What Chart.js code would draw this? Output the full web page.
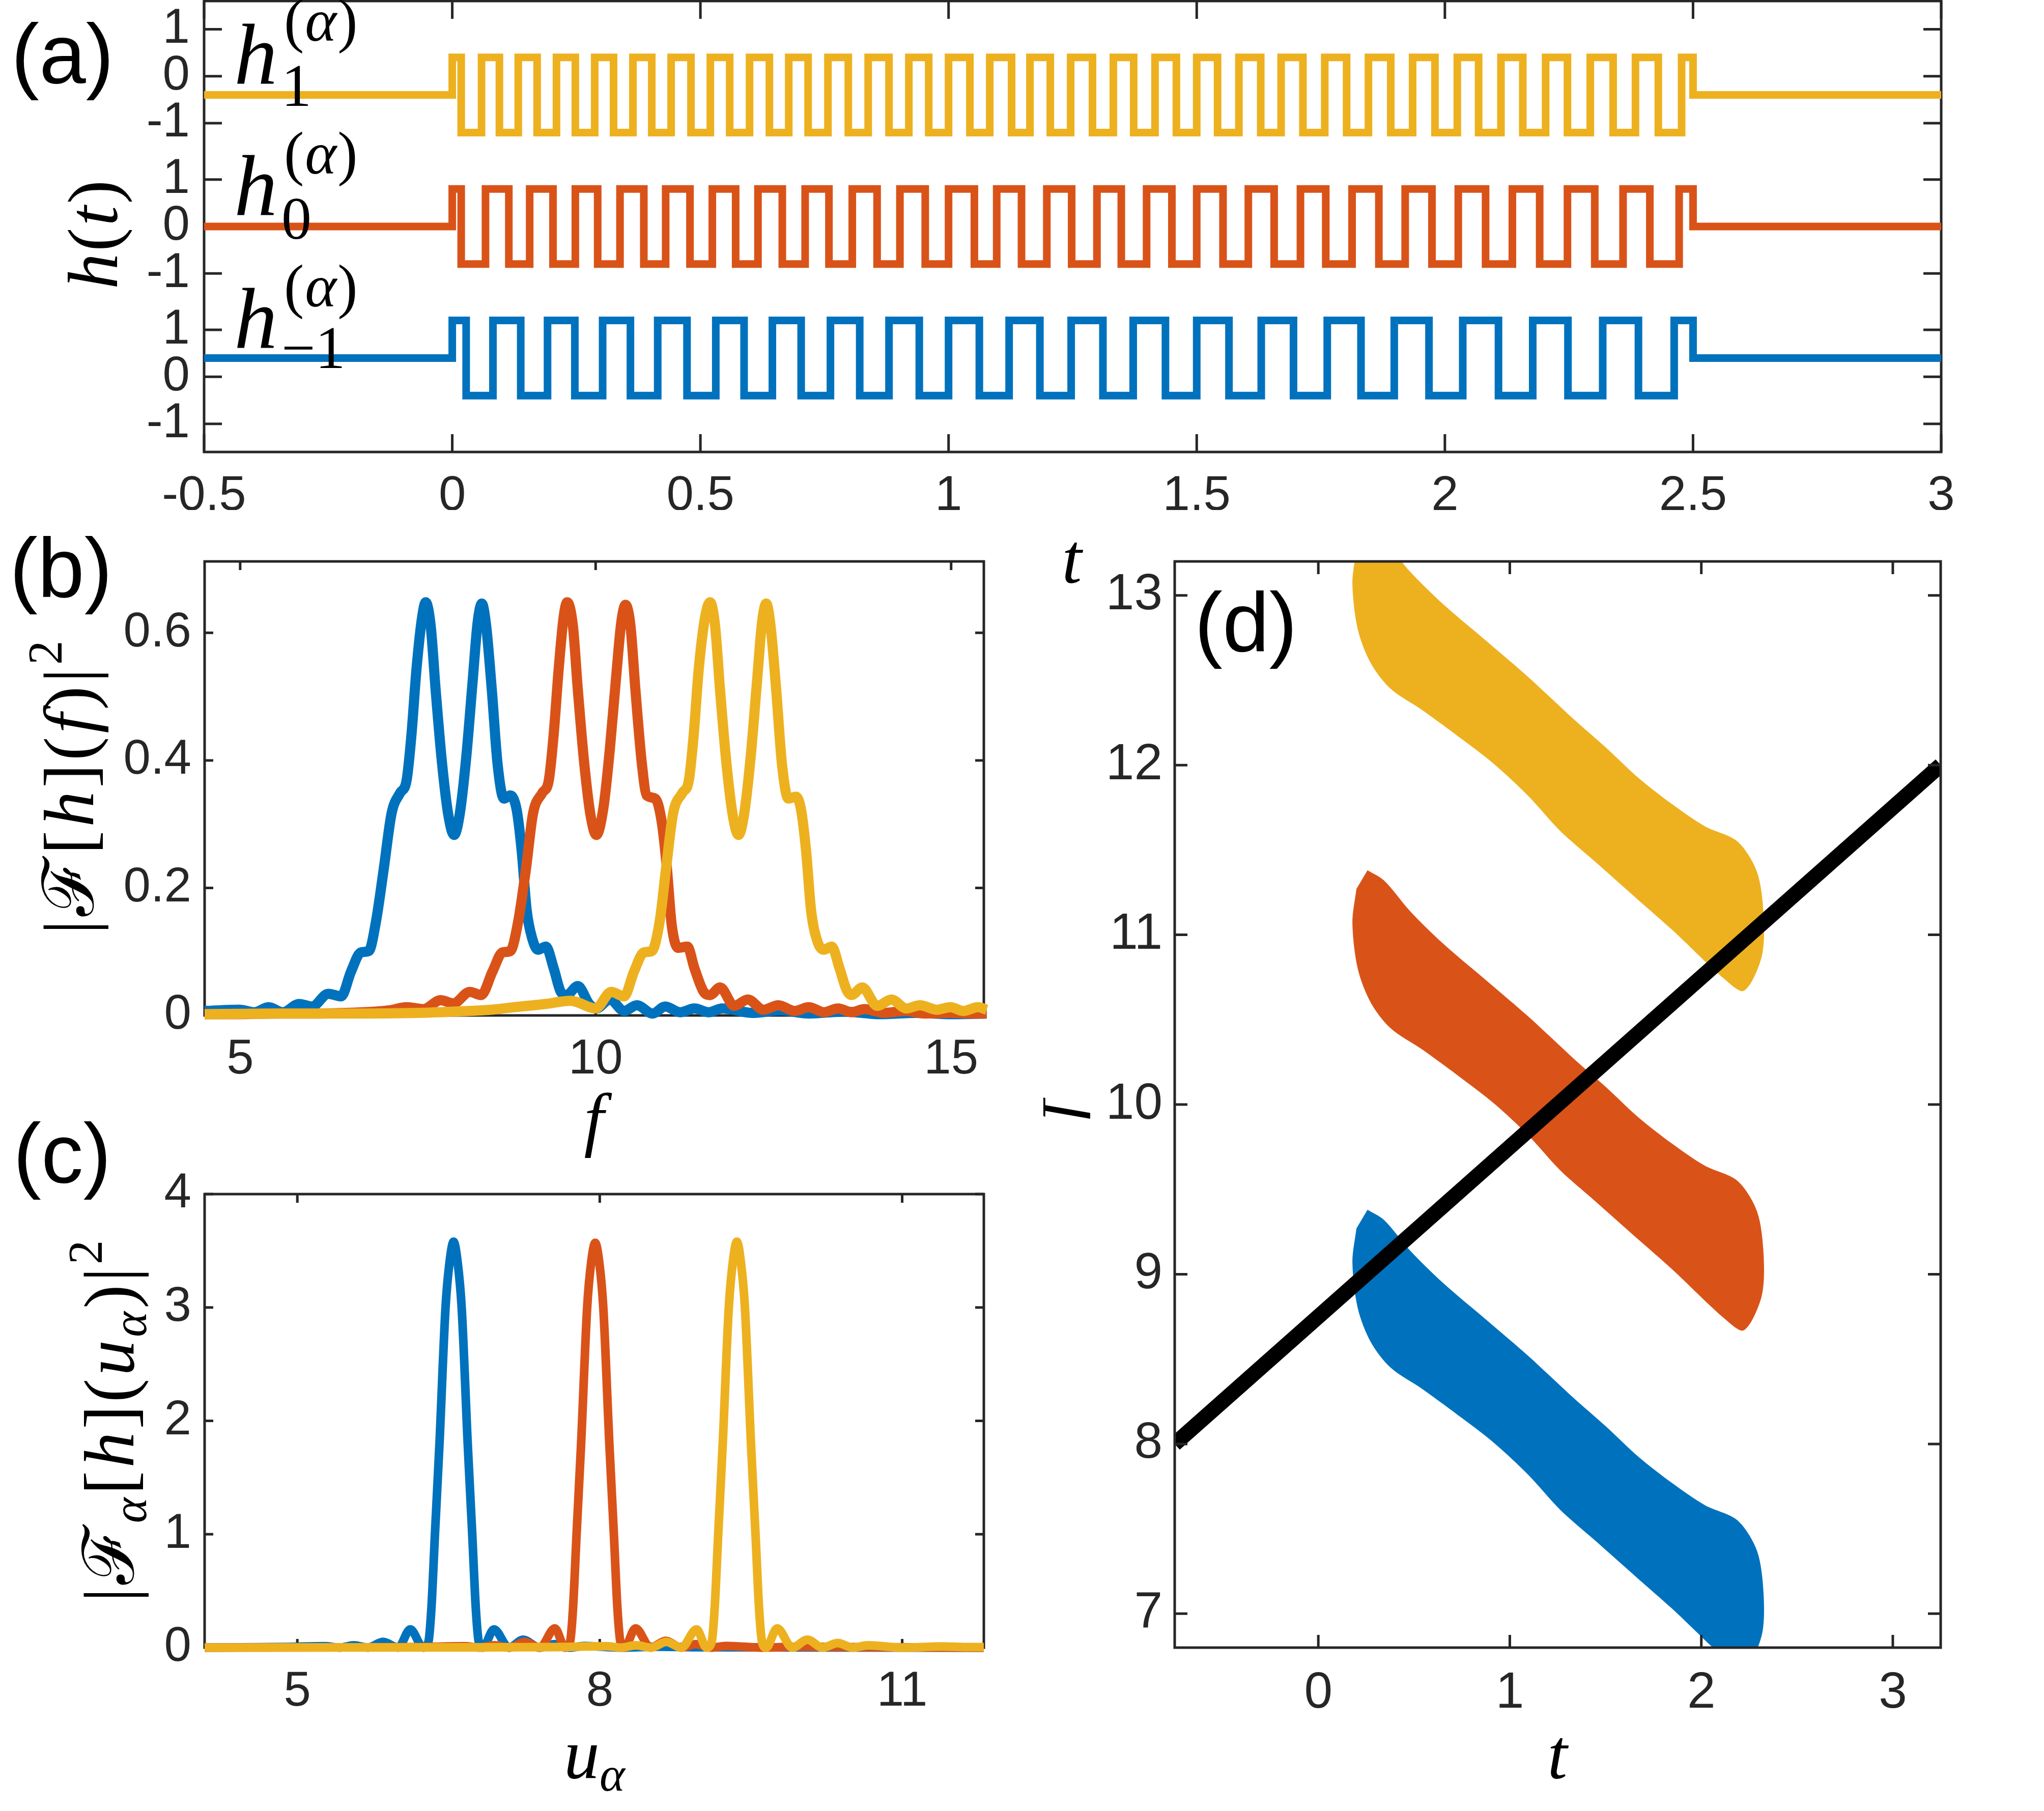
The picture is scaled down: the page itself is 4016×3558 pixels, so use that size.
<!DOCTYPE html>
<html>
<head>
<meta charset="utf-8">
<script src="https://cdn.jsdelivr.net/npm/chart.js"></script>
<style>
  html, body { margin: 0; padding: 0; background: #fff; }
  body { width: 4016px; height: 3558px; position: relative; overflow: hidden; }
  canvas { position: absolute; }
</style>
</head>
<body>
<canvas id="pa" width="4016" height="1100" style="left:0;top:-98px"></canvas>
<canvas id="pb" width="2050" height="1287" style="left:0;top:1003px"></canvas>
<canvas id="pc" width="2050" height="1378" style="left:0;top:2180px"></canvas>
<canvas id="pd" width="1966" height="2555" style="left:2050px;top:1003px"></canvas>
<script>
// ---- panel (a): switching times of the three square waves ----
const edgesBlue = [0, 0.028, 0.082, 0.138, 0.192, 0.247, 0.303, 0.359, 0.414, 0.473, 0.531, 0.588, 0.645, 0.703, 0.762, 0.821, 0.880, 0.941, 1.0, 1.062, 1.122, 1.184, 1.247, 1.311, 1.372, 1.437, 1.5, 1.565, 1.630, 1.695, 1.763, 1.831, 1.898, 1.968, 2.036, 2.108, 2.177, 2.248, 2.318, 2.390, 2.462, 2.5];
const edgesOrange = [0, 0.018, 0.067, 0.114, 0.156, 0.203, 0.248, 0.293, 0.338, 0.386, 0.430, 0.479, 0.524, 0.571, 0.616, 0.665, 0.711, 0.759, 0.806, 0.856, 0.902, 0.953, 1.0, 1.052, 1.097, 1.147, 1.198, 1.248, 1.299, 1.348, 1.399, 1.450, 1.5, 1.553, 1.604, 1.656, 1.709, 1.760, 1.813, 1.867, 1.920, 1.974, 2.027, 2.082, 2.136, 2.191, 2.247, 2.302, 2.359, 2.413, 2.472, 2.5];
const edgesYellow = [0, 0.018, 0.059, 0.095, 0.133, 0.171, 0.210, 0.248, 0.287, 0.325, 0.364, 0.402, 0.441, 0.481, 0.520, 0.559, 0.599, 0.639, 0.678, 0.717, 0.757, 0.798, 0.838, 0.880, 0.920, 0.960, 1.0, 1.043, 1.083, 1.127, 1.164, 1.205, 1.246, 1.290, 1.332, 1.373, 1.416, 1.459, 1.5, 1.542, 1.585, 1.629, 1.670, 1.714, 1.758, 1.802, 1.846, 1.891, 1.935, 1.980, 2.025, 2.068, 2.113, 2.157, 2.203, 2.247, 2.293, 2.339, 2.384, 2.430, 2.477, 2.5];
// levels for blue, orange, yellow (the traces are stacked with offsets 0, 3.2, 6.4)
const flatLevel = [0.4, 3.2, 6.0];
const highLevel = [1.2, 4.0, 6.8];
const lowLevel = [-0.4, 2.4, 5.2];
const xTicksA = [-0.5, 0, 0.5, 1, 1.5, 2, 2.5, 3];
const xLabelsA = ['-0.5', '0', '0.5', '1', '1.5', '2', '2.5', '3'];
const yTicksA = [-1, 0, 1, 2.2, 3.2, 4.2, 5.4, 6.4, 7.4];
const yLabelsA = ['-1', '0', '1', '-1', '0', '1', '-1', '0', '1'];

// ---- panel (b): |F[h](f)|^2 ----
const fBlue = [4.5, 4.99, 5.2, 5.4, 5.6, 5.83, 6.01, 6.24, 6.42, 6.56, 6.70, 6.81, 6.91, 7.02, 7.13, 7.25, 7.34, 7.41, 7.48, 7.56, 7.61, 7.68, 7.75, 7.84, 7.93, 8.01, 8.09, 8.18, 8.27, 8.34, 8.40, 8.46, 8.54, 8.62, 8.71, 8.80, 8.89, 8.96, 9.03, 9.11, 9.19, 9.30, 9.41, 9.51, 9.59, 9.75, 9.91, 10.01, 10.20, 10.40, 10.58, 10.80, 10.98, 11.19, 11.39, 11.59, 11.78, 12.2, 12.6, 13.0, 13.5, 14.0, 14.5, 15.0, 15.5];
const pBlue = [0.007, 0.009, 0.005, 0.013, 0.005, 0.018, 0.014, 0.034, 0.030, 0.069, 0.099, 0.101, 0.147, 0.230, 0.317, 0.349, 0.368, 0.441, 0.543, 0.625, 0.648, 0.611, 0.510, 0.395, 0.313, 0.283, 0.317, 0.405, 0.524, 0.616, 0.646, 0.611, 0.510, 0.395, 0.340, 0.345, 0.322, 0.258, 0.165, 0.120, 0.103, 0.108, 0.074, 0.037, 0.032, 0.046, 0.018, 0.011, 0.025, 0.007, 0.016, 0.003, 0.014, 0.005, 0.011, 0.005, 0.011, 0.004, 0.008, 0.003, 0.006, 0.002, 0.004, 0.002, 0.003];
const fOrange = [4.5, 5.0, 5.5, 6.0, 6.5, 6.9, 7.1, 7.34, 7.58, 7.82, 8.00, 8.23, 8.39, 8.55, 8.69, 8.80, 8.91, 9.02, 9.12, 9.25, 9.34, 9.41, 9.48, 9.55, 9.60, 9.68, 9.75, 9.84, 9.93, 10.01, 10.11, 10.20, 10.29, 10.36, 10.42, 10.49, 10.56, 10.65, 10.72, 10.84, 10.93, 11.00, 11.07, 11.16, 11.29, 11.39, 11.52, 11.61, 11.75, 11.95, 12.14, 12.36, 12.57, 12.80, 13.0, 13.21, 13.41, 13.60, 13.78, 14.06, 14.35, 14.63, 14.99, 15.28, 15.5];
const pOrange = [0.002, 0.002, 0.003, 0.003, 0.004, 0.006, 0.008, 0.013, 0.010, 0.024, 0.019, 0.037, 0.032, 0.069, 0.099, 0.101, 0.147, 0.230, 0.317, 0.349, 0.368, 0.441, 0.543, 0.625, 0.648, 0.611, 0.510, 0.395, 0.313, 0.283, 0.326, 0.418, 0.533, 0.616, 0.644, 0.611, 0.510, 0.395, 0.345, 0.340, 0.303, 0.234, 0.142, 0.106, 0.108, 0.074, 0.037, 0.032, 0.044, 0.015, 0.025, 0.009, 0.016, 0.007, 0.013, 0.005, 0.011, 0.005, 0.010, 0.004, 0.007, 0.003, 0.004, 0.003, 0.003];
const fYellow = [4.5, 5.5, 6.5, 7.5, 8.0, 8.53, 8.86, 9.29, 9.65, 10.0, 10.22, 10.40, 10.54, 10.68, 10.79, 10.90, 10.99, 11.09, 11.22, 11.31, 11.38, 11.45, 11.54, 11.61, 11.68, 11.75, 11.84, 11.93, 12.01, 12.09, 12.18, 12.27, 12.34, 12.40, 12.46, 12.54, 12.62, 12.71, 12.82, 12.89, 12.96, 13.03, 13.12, 13.21, 13.32, 13.43, 13.53, 13.60, 13.75, 13.96, 14.16, 14.37, 14.56, 14.80, 14.99, 15.17, 15.38, 15.5];
const pYellow = [0.002, 0.003, 0.003, 0.004, 0.006, 0.009, 0.013, 0.018, 0.023, 0.011, 0.037, 0.030, 0.069, 0.099, 0.101, 0.147, 0.230, 0.317, 0.349, 0.368, 0.441, 0.543, 0.625, 0.648, 0.611, 0.510, 0.395, 0.313, 0.283, 0.317, 0.405, 0.524, 0.616, 0.646, 0.611, 0.510, 0.395, 0.340, 0.343, 0.322, 0.258, 0.165, 0.116, 0.103, 0.108, 0.074, 0.040, 0.032, 0.044, 0.015, 0.025, 0.011, 0.016, 0.009, 0.013, 0.007, 0.013, 0.009];

// ---- panel (c): |F_alpha[h](u_alpha)|^2 ----
const uBlue = [4.08, 4.6, 4.9, 5.27, 5.42, 5.56, 5.70, 5.85, 6.00, 6.12, 6.25, 6.30, 6.33, 6.365, 6.41, 6.47, 6.51, 6.55, 6.59, 6.63, 6.69, 6.735, 6.77, 6.80, 6.84, 6.95, 7.10, 7.24, 7.40, 7.55, 7.70, 7.85, 8.2, 8.6, 9.0, 11.81];
const qBlue = [0, 0.003, 0.006, 0.012, 0, 0.02, 0, 0.05, 0, 0.16, 0, 0.05, 0.35, 1.0, 1.8, 3.0, 3.4, 3.58, 3.4, 3.0, 1.8, 1.0, 0.35, 0.05, 0, 0.16, 0, 0.07, 0, 0.03, 0, 0.015, 0, 0.008, 0.003, 0];
const uOrange = [4.08, 5.5, 6.2, 6.655, 6.805, 6.955, 7.105, 7.255, 7.405, 7.555, 7.655, 7.705, 7.735, 7.77, 7.815, 7.875, 7.915, 7.955, 7.995, 8.035, 8.095, 8.14, 8.175, 8.205, 8.245, 8.355, 8.505, 8.655, 8.805, 8.955, 9.105, 9.255, 9.6, 10.0, 10.5, 11.81];
const qOrange = [0, 0.002, 0.004, 0.012, 0, 0.02, 0, 0.05, 0, 0.17, 0, 0.05, 0.35, 1.0, 1.8, 3.0, 3.4, 3.57, 3.4, 3.0, 1.8, 1.0, 0.35, 0.05, 0, 0.17, 0, 0.06, 0, 0.03, 0, 0.015, 0, 0.008, 0.004, 0];
const uYellow = [4.08, 6.5, 7.5, 8.06, 8.21, 8.36, 8.51, 8.66, 8.81, 8.96, 9.06, 9.11, 9.14, 9.175, 9.22, 9.28, 9.32, 9.36, 9.40, 9.44, 9.50, 9.545, 9.58, 9.61, 9.65, 9.76, 9.91, 10.06, 10.21, 10.36, 10.51, 10.66, 11.0, 11.4, 11.6, 11.81];
const qYellow = [0, 0.002, 0.004, 0.012, 0, 0.02, 0, 0.05, 0, 0.16, 0, 0.05, 0.35, 1.0, 1.8, 3.0, 3.4, 3.58, 3.4, 3.0, 1.8, 1.0, 0.35, 0.05, 0, 0.17, 0, 0.07, 0, 0.04, 0, 0.02, 0, 0.01, 0.005, 0.004];

// ---- panel (d): time-frequency bands (outline t, f) and the line ----
const bandT = [0.257, 0.343, 0.479, 0.650, 0.889, 1.095, 1.334, 1.505, 1.676, 1.847, 2.018, 2.189, 2.291, 2.325, 2.315, 2.223, 2.12, 1.847, 1.676, 1.436, 1.265, 1.095, 0.924, 0.753, 0.548, 0.377, 0.274, 0.206, 0.178, 0.199];
const bandYellowF = [13.38, 13.32, 13.14, 12.95, 12.72, 12.52, 12.27, 12.10, 11.92, 11.77, 11.64, 11.55, 11.37, 11.12, 10.87, 10.67, 10.74, 11.03, 11.20, 11.44, 11.61, 11.82, 12.0, 12.15, 12.32, 12.45, 12.60, 12.80, 13.07, 13.27];
const bandOrangeF = [11.38, 11.32, 11.14, 10.95, 10.72, 10.52, 10.27, 10.10, 9.92, 9.77, 9.64, 9.55, 9.37, 9.12, 8.87, 8.67, 8.74, 9.03, 9.20, 9.44, 9.61, 9.82, 10.0, 10.15, 10.32, 10.45, 10.60, 10.80, 11.07, 11.27];
const bandBlueF = [9.38, 9.32, 9.14, 8.95, 8.72, 8.52, 8.27, 8.10, 7.92, 7.77, 7.64, 7.55, 7.37, 7.12, 6.87, 6.67, 6.74, 7.03, 7.20, 7.44, 7.61, 7.82, 8.0, 8.15, 8.32, 8.45, 8.60, 8.80, 9.07, 9.27];
const lineT = [-0.75, 3.25];
const lineF = [8, 12];

const BLUE = '#0072BD', ORANGE = '#D95319', YELLOW = '#EDB120', AX = '#262626';

const sans = s => `${s}px "Liberation Sans", Arial, sans-serif`;
const rom = s => `${s}px "Liberation Serif", "DejaVu Serif", serif`;
const ita = s => `italic ${s}px "Liberation Serif", "DejaVu Serif", serif`;

const xy = (xs, ys) => xs.map((x, i) => ({x: x, y: ys[i]}));

function stepPoints(edges, k) {
  const pts = [{x: -0.5, y: flatLevel[k]}];
  edges.forEach((t, i) => {
    const y = i === edges.length - 1 ? flatLevel[k] : (i % 2 === 0 ? highLevel[k] : lowLevel[k]);
    pts.push({x: t, y: y});
  });
  pts.push({x: 3, y: flatLevel[k]});
  return pts;
}

// MATLAB-style box with inward ticks on all sides
function drawBox(chart, o) {
  const {ctx, chartArea: a} = chart;
  const x = chart.scales.x, y = chart.scales.y;
  ctx.save();
  ctx.strokeStyle = AX;
  ctx.lineWidth = o.lw;
  ctx.beginPath();
  x.ticks.forEach(t => {
    const p = x.getPixelForValue(t.value);
    ctx.moveTo(p, a.bottom); ctx.lineTo(p, a.bottom - o.len);
    ctx.moveTo(p, a.top); ctx.lineTo(p, a.top + o.len);
  });
  y.ticks.forEach(t => {
    const p = y.getPixelForValue(t.value);
    ctx.moveTo(a.left, p); ctx.lineTo(a.left + o.len, p);
    ctx.moveTo(a.right, p); ctx.lineTo(a.right - o.len, p);
  });
  ctx.stroke();
  ctx.strokeRect(a.left, a.top, a.right - a.left, a.bottom - a.top);
  ctx.restore();
}
Chart.register({
  id: 'box',
  defaults: {lw: 5, len: 20, onTop: false},
  beforeDatasetsDraw(chart, args, o) { if (!o.onTop) drawBox(chart, o); },
  afterDatasetsDraw(chart, args, o) { if (o.onTop) drawBox(chart, o); }
});

function runs(ctx, x, y, parts, gap, center) {
  let w = 0;
  parts.forEach(p => { ctx.font = p[1]; w += ctx.measureText(p[0]).width + gap; });
  w -= gap;
  let cx = center ? x - w / 2 : x;
  parts.forEach(p => {
    ctx.font = p[1];
    ctx.fillText(p[0], cx, y + (p[2] || 0));
    cx += ctx.measureText(p[0]).width + gap;
  });
}
function rotRuns(ctx, cx, cy, parts, gap) {
  ctx.save();
  ctx.translate(cx, cy);
  ctx.rotate(-Math.PI / 2);
  runs(ctx, 0, 0, parts, gap, true);
  ctx.restore();
}
function textPlugin(draw) {
  return {
    id: 'txt',
    afterDraw(chart) {
      const ctx = chart.ctx;
      ctx.save();
      ctx.fillStyle = '#000';
      ctx.textAlign = 'left';
      ctx.textBaseline = 'alphabetic';
      draw(ctx);
      ctx.restore();
    }
  };
}

function axis(min, max, tickVals, tickLabels, size, fontPx, pad, horizontal) {
  const o = {
    type: 'linear', min: min, max: max,
    afterBuildTicks: s => { s.ticks = tickVals.map(v => ({value: v})); },
    ticks: {
      autoSkip: false, maxRotation: 0, padding: pad,
      color: AX, font: {family: '"Liberation Sans", Arial, sans-serif', size: fontPx},
      callback: (v, i) => tickLabels[i]
    },
    grid: {display: false, drawTicks: false},
    border: {display: false}
  };
  o.afterFit = horizontal ? (s => { s.height = size; }) : (s => { s.width = size; });
  return o;
}

const common = {
  responsive: false, animation: false, devicePixelRatio: 1,
  plugins: {legend: {display: false}, tooltip: {enabled: false}},
  elements: {point: {radius: 0}}
};

// ---------------- (a) ----------------
new Chart(document.getElementById('pa'), {
  type: 'line',
  data: {
    datasets: [0, 1, 2].map(k => ({
      data: stepPoints([edgesBlue, edgesOrange, edgesYellow][k], k),
      borderColor: [BLUE, ORANGE, YELLOW][k],
      borderWidth: 15, stepped: true, fill: false,
      borderJoinStyle: 'miter', borderCapStyle: 'butt'
    }))
  },
  options: Object.assign({}, common, {
    layout: {padding: {top: 100, right: 202, left: 0, bottom: 0}},
    scales: {
      x: axis(-0.5, 3, xTicksA, xLabelsA, 114, 96, 30, true),
      y: axis(-1.6, 8.0, yTicksA, yLabelsA, 401, 96, 28, false)
    },
    plugins: Object.assign({}, common.plugins, {box: {lw: 5, len: 35}})
  }),
  plugins: [textPlugin(ctx => {
    const oy = 98;
    ctx.font = sans(165);
    ctx.fillText('(a)', 22, 163 + oy);
    rotRuns(ctx, 230, 461 + oy, [['h', ita(140)], ['(', rom(140)], ['t', ita(140)], [')', rom(140)]], 4);
    [[164, '1', 208, 80], [422, '0', 469, 341], [683, '\u22121', 723, 602]].forEach(([hb, sub, sb, pb]) => {
      ctx.font = ita(170);
      ctx.fillText('h', 460, hb + oy);
      ctx.font = rom(118);
      ctx.fillText(sub, 553, sb + oy);
      runs(ctx, 558, pb + oy, [['(', rom(118)], ['\u03b1', ita(118)], [')', rom(118)]], 2, false);
    });
  })]
});

// ---------------- (b) ----------------
const specSet = (xs, ys, c) => ({data: xy(xs, ys), borderColor: c, borderWidth: 20, fill: false,
  cubicInterpolationMode: 'monotone', clip: false});
new Chart(document.getElementById('pb'), {
  type: 'line',
  data: {datasets: [specSet(fYellow, pYellow, YELLOW), specSet(fOrange, pOrange, ORANGE), specSet(fBlue, pBlue, BLUE)]},
  options: Object.assign({}, common, {
    layout: {padding: {top: 100, right: 117, left: 0, bottom: 0}},
    scales: {
      x: axis(4.5, 15.46, [5, 10, 15], ['5', '10', '15'], 295, 96, 30, true),
      y: axis(0, 0.712, [0, 0.2, 0.4, 0.6], ['0', '0.2', '0.4', '0.6'], 402, 96, 26, false)
    },
    plugins: Object.assign({}, common.plugins, {box: {lw: 5, len: 17}})
  }),
  plugins: [textPlugin(ctx => {
    const oy = -1003;
    ctx.font = sans(165);
    ctx.fillText('(b)', 19, 1173 + oy);
    rotRuns(ctx, 183, 1547 + oy, [['|', rom(140)], ['\u2131', rom(140)], ['[', rom(140)], ['h', ita(140)], [']', rom(140)],
      ['(', rom(140)], ['f', ita(140)], [')', rom(140)], ['|', rom(140)], ['2', rom(95), -62]], 7);
    runs(ctx, 1167, 2245 + oy, [['f', ita(140)]], 0, true);
  })]
});

// ---------------- (c) ----------------
const peakSet = (xs, ys, c) => ({data: xy(xs, ys), borderColor: c, borderWidth: 17, fill: false,
  cubicInterpolationMode: 'monotone', clip: false});
new Chart(document.getElementById('pc'), {
  type: 'line',
  data: {datasets: [peakSet(uYellow, qYellow, YELLOW), peakSet(uOrange, qOrange, ORANGE), peakSet(uBlue, qBlue, BLUE)]},
  options: Object.assign({}, common, {
    layout: {padding: {top: 166, right: 117, left: 0, bottom: 0}},
    scales: {
      x: axis(4.08, 11.81, [5, 8, 11], ['5', '8', '11'], 321, 96, 30, true),
      y: axis(0, 4, [0, 1, 2, 3, 4], ['0', '1', '2', '3', '4'], 402, 96, 26, false)
    },
    plugins: Object.assign({}, common.plugins, {box: {lw: 5, len: 17}})
  }),
  plugins: [textPlugin(ctx => {
    const oy = -2180;
    ctx.font = sans(165);
    ctx.fillText('(c)', 26, 2323 + oy);
    rotRuns(ctx, 262, 2792 + oy, [['|', rom(140)], ['\u2131', rom(140)], ['\u03b1', ita(95), 25], ['[', rom(140)], ['h', ita(140)], [']', rom(140)],
      ['(', rom(140)], ['u', ita(140)], ['\u03b1', ita(95), 25], [')', rom(140)], ['|', rom(140)], ['2', rom(95), -62]], 6);
    runs(ctx, 1108, 3493 + oy, [['u', ita(140)], ['\u03b1', ita(95), 25]], 0, false);
  })]
});

// ---------------- (d) ----------------
const bandSet = (fs, c) => ({data: xy(bandT, fs), borderWidth: 0, borderColor: 'rgba(0,0,0,0)',
  backgroundColor: c, fill: 'shape', tension: 0.3});
new Chart(document.getElementById('pd'), {
  type: 'line',
  data: {datasets: [
    {data: xy(lineT, lineF), borderColor: '#000', borderWidth: 30, fill: false, borderCapStyle: 'butt'},
    bandSet(bandYellowF, YELLOW), bandSet(bandOrangeF, ORANGE), bandSet(bandBlueF, BLUE)
  ]},
  options: Object.assign({}, common, {
    layout: {padding: {top: 100, right: 203, left: 0, bottom: 0}},
    scales: {
      x: axis(-0.75, 3.25, [0, 1, 2, 3], ['0', '1', '2', '3'], 321, 100, 30, true),
      y: axis(6.8, 13.2, [7, 8, 9, 10, 11, 12, 13], ['7', '8', '9', '10', '11', '12', '13'], 258, 100, 24, false)
    },
    plugins: Object.assign({}, common.plugins, {box: {lw: 5, len: 25, onTop: true}})
  }),
  plugins: [textPlugin(ctx => {
    const ox = -2050, oy = -1003;
    ctx.font = sans(165);
    ctx.fillText('(d)', 2347 + ox, 1280 + oy);
    runs(ctx, 2106 + ox, 1145 + oy, [['t', ita(140)]], 0, true);
    rotRuns(ctx, 2112 + ox, 2180 + oy, [['f', ita(140)]], 0);
    runs(ctx, 3060 + ox, 3494 + oy, [['t', ita(140)]], 0, true);
  })]
});
</script>
</body>
</html>
